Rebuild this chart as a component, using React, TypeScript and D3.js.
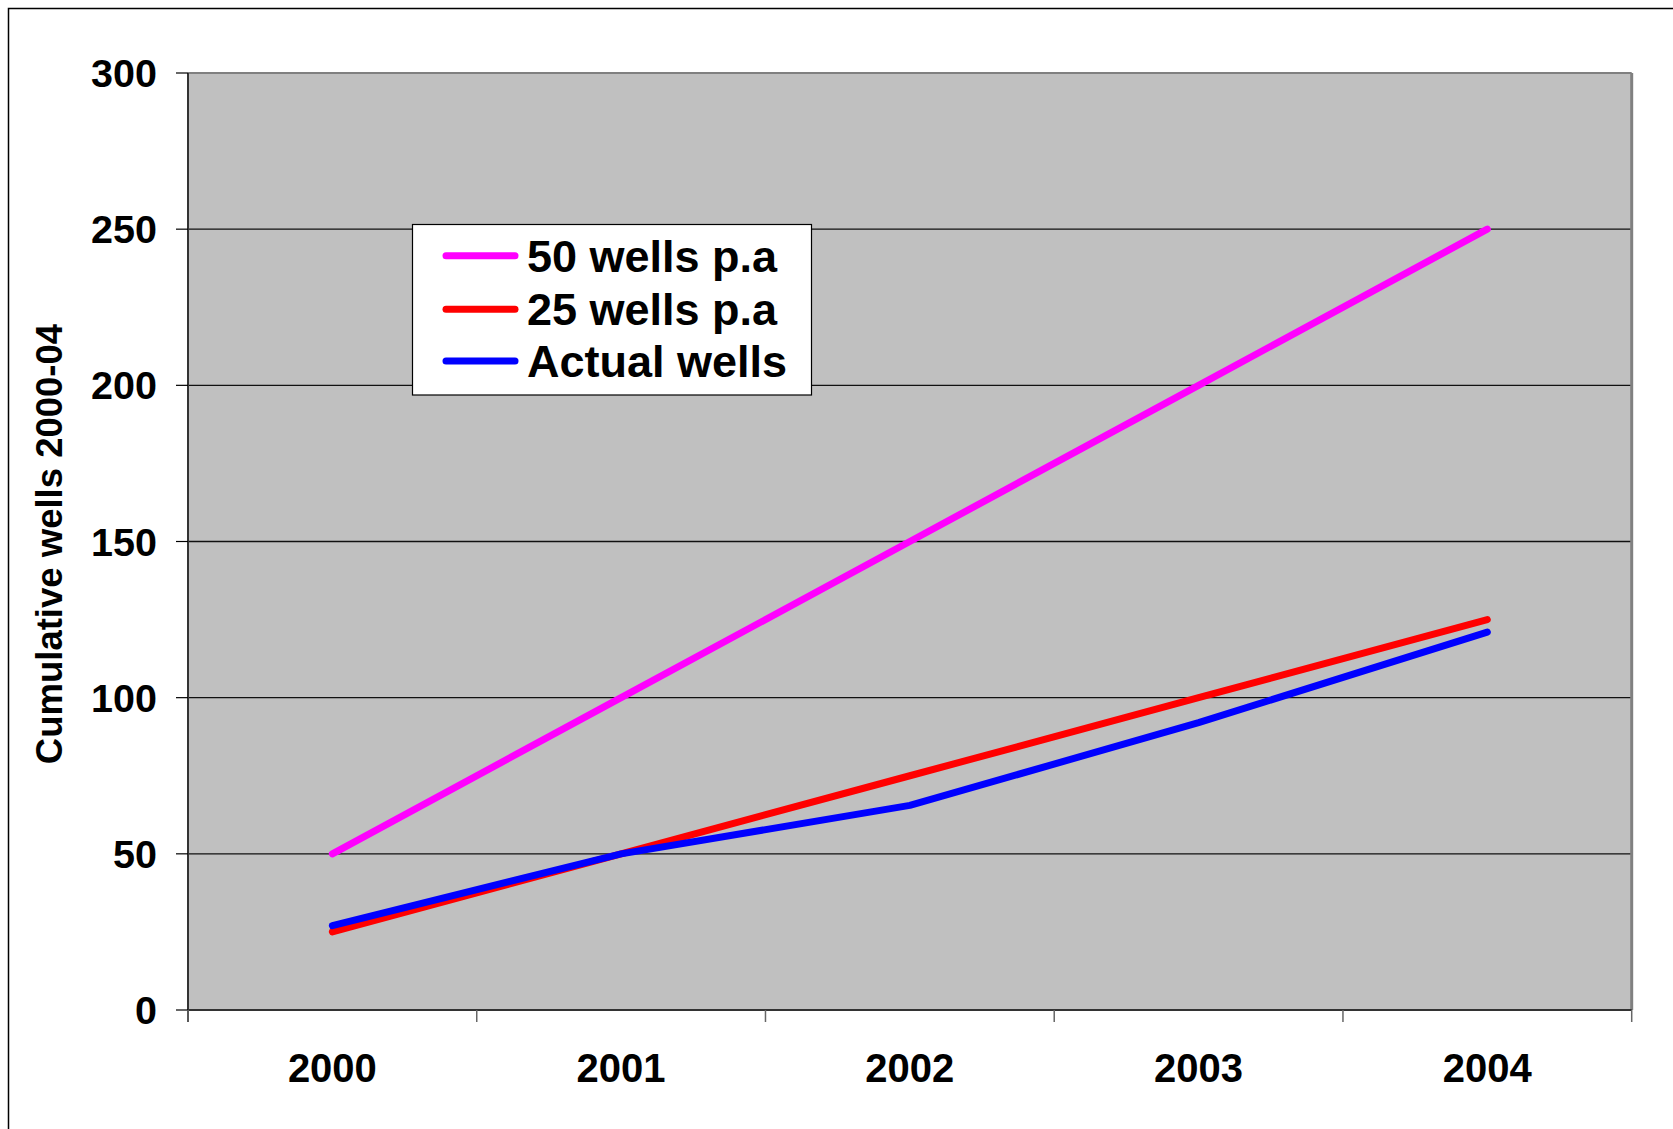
import React from "react";
import * as d3 from "d3";

const years = ["2000", "2001", "2002", "2003", "2004"];
const wells50 = [50, 100, 150, 200, 250];
const wells25 = [25, 50, 75, 100, 125];
const actualWells = [27, 50, 65.5, 92, 121];
const yTicks = [0, 50, 100, 150, 200, 250, 300];

const seriesNames = ["50 wells p.a", "25 wells p.a", "Actual wells"];
const seriesColors = ["#FF00FF", "#FF0000", "#0000FF"];

const W = 1673;
const H = 1129;
const FONT = "'Liberation Sans', Arial, Helvetica, sans-serif";

export default function App() {
  const left = 188, right = 1631.7, top = 73, bottom = 1010;
  const x = d3.scaleBand<string>().domain(years).range([left, right]).padding(0);
  const y = d3.scaleLinear().domain([0, 300]).range([bottom, top]);
  const cx = (yr: string) => (x(yr) as number) + x.bandwidth() / 2;

  const line = d3
    .line<number>()
    .x((_, i) => cx(years[i]))
    .y((v) => y(v));

  const data = [wells50, wells25, actualWells];
  const xBoundaries = [...years.map((yr) => x(yr) as number), right];

  const legendRows = [255.7, 309.3, 361];

  return (
    <svg
      width={W}
      height={H}
      style={{ position: "absolute", left: 0, top: 0, background: "#fff" }}
      fontFamily={FONT}
      fontWeight="bold"
    >
      {/* outer frame */}
      <rect x={8.5} y={8.5} width={1700} height={1200} fill="none" stroke="#000" strokeWidth={1.5} />

      {/* plot area */}
      <rect x={left} y={top} width={right - left} height={bottom - top} fill="#C0C0C0" />

      {/* gridlines */}
      {yTicks
        .filter((t) => t > 0 && t < 300)
        .map((t) => (
          <line key={t} x1={left} x2={right} y1={y(t)} y2={y(t)} stroke="#111" strokeWidth={1.3} />
        ))}

      {/* plot border top/right */}
      <line x1={left} x2={right} y1={top} y2={top} stroke="#808080" strokeWidth={2} />
      <line x1={right} x2={right} y1={top} y2={bottom} stroke="#808080" strokeWidth={3} />

      {/* y axis */}
      <line x1={left} x2={left} y1={top} y2={bottom + 12} stroke="#333" strokeWidth={2} />
      {yTicks.map((t) => (
        <g key={t}>
          <line x1={176} x2={left} y1={y(t)} y2={y(t)} stroke="#000" strokeWidth={1.2} />
          <text x={157} y={y(t) + 14} textAnchor="end" fontSize={39.5} fill="#000">
            {t}
          </text>
        </g>
      ))}

      {/* x axis */}
      <line x1={left} x2={right} y1={bottom} y2={bottom} stroke="#333" strokeWidth={2} />
      {xBoundaries.map((bx, i) => (
        <line key={i} x1={bx} x2={bx} y1={bottom} y2={bottom + 12} stroke="#666" strokeWidth={1.5} />
      ))}
      {years.map((yr) => (
        <text key={yr} x={cx(yr)} y={1082} textAnchor="middle" fontSize={40} fill="#000">
          {yr}
        </text>
      ))}

      {/* y axis title */}
      <text
        transform={`translate(62, 544) rotate(-90)`}
        textAnchor="middle"
        fontSize={36.5}
        fill="#000"
      >
        Cumulative wells 2000-04
      </text>

      {/* series */}
      {data.map((d, i) => (
        <path
          key={i}
          d={line(d) as string}
          fill="none"
          stroke={seriesColors[i]}
          strokeWidth={7}
          strokeLinecap="round"
          strokeLinejoin="round"
        />
      ))}

      {/* legend */}
      <rect x={412.5} y={224.5} width={399} height={170.5} fill="#fff" stroke="#000" strokeWidth={1.2} />
      {seriesNames.map((name, i) => (
        <g key={name}>
          <line
            x1={446}
            x2={515}
            y1={legendRows[i]}
            y2={legendRows[i]}
            stroke={seriesColors[i]}
            strokeWidth={7}
            strokeLinecap="round"
          />
          <text x={527} y={legendRows[i] + 16} fontSize={45} fill="#000">
            {name}
          </text>
        </g>
      ))}
    </svg>
  );
}
